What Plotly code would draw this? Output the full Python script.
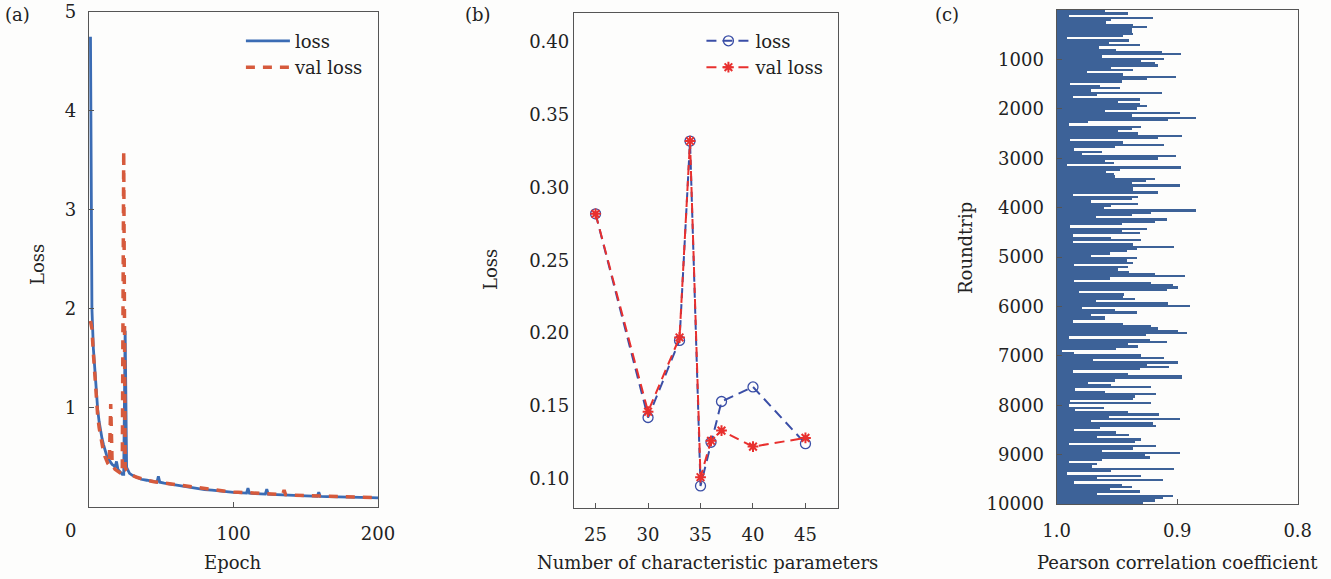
import numpy as np
import plotly.graph_objects as go

FONT = "DejaVu Serif"
FS = 18
AXIS_COLOR = "#555555"

# ---- (a) training history -------------------------------------------------
loss_epoch = [1, 2, 3, 4, 5, 6, 7, 8, 9, 10, 11, 12, 13, 14, 15, 16, 17, 18, 19, 20,
              21, 22, 23, 24, 25, 26, 28, 30, 33, 36, 40, 44, 47, 48, 49, 52, 56, 60,
              65, 70, 75, 80, 85, 90, 95, 100, 105, 109, 110, 111, 115, 120, 122, 123,
              124, 130, 135, 140, 145, 150, 155, 158, 159, 160, 165, 170, 175, 180,
              185, 190, 195, 200]
loss_value = [4.75, 2.00, 1.60, 1.38, 1.15, 0.98, 0.86, 0.76, 0.69, 0.63, 0.57, 0.53,
              0.50, 0.47, 0.45, 0.43, 0.42, 0.40, 0.46, 0.38, 0.36, 0.34, 0.33, 0.33,
              1.78, 0.40, 0.34, 0.32, 0.30, 0.28, 0.27, 0.26, 0.25, 0.31, 0.25, 0.24,
              0.23, 0.22, 0.205, 0.195, 0.185, 0.175, 0.17, 0.16, 0.155, 0.148, 0.143,
              0.14, 0.19, 0.14, 0.135, 0.13, 0.13, 0.18, 0.13, 0.125, 0.12, 0.118,
              0.115, 0.112, 0.11, 0.108, 0.15, 0.108, 0.105, 0.102, 0.10, 0.098,
              0.096, 0.095, 0.094, 0.092]

val_epoch = [1, 2, 3, 4, 5, 6, 7, 8, 9, 10, 11, 12, 13, 14, 15, 16, 17, 18, 19, 20,
             21, 22, 23, 24, 25, 26, 28, 30, 33, 36, 40, 45, 50, 55, 60, 65, 70, 75,
             80, 85, 90, 95, 100, 110, 120, 130, 134, 135, 136, 140, 150, 160, 170,
             180, 190, 200]
val_value = [1.88, 1.80, 1.55, 1.30, 1.08, 0.92, 0.80, 0.70, 0.62, 0.56, 0.51, 0.47,
             0.44, 0.42, 1.04, 0.43, 0.40, 0.38, 0.37, 0.36, 0.35, 0.34, 0.33, 3.60,
             0.40, 0.37, 0.34, 0.32, 0.30, 0.285, 0.27, 0.255, 0.245, 0.235, 0.225,
             0.21, 0.20, 0.19, 0.18, 0.172, 0.165, 0.158, 0.152, 0.143, 0.135, 0.128,
             0.125, 0.17, 0.125, 0.12, 0.115, 0.11, 0.105, 0.10, 0.097, 0.094]

# ---- (b) loss vs. number of characteristic parameters --------------------
n_params = [25, 30, 33, 34, 35, 36, 37, 40, 45]
param_loss = [0.282, 0.142, 0.195, 0.332, 0.095, 0.125, 0.153, 0.163, 0.124]
param_val_loss = [0.282, 0.146, 0.197, 0.332, 0.101, 0.126, 0.133, 0.122, 0.128]

# ---- (c) Pearson correlation per roundtrip -------------------------------
pearson = [
    0.960, 0.941, 0.990, 0.920, 0.955, 0.959, 0.937, 0.925, 0.938, 0.938, 0.937, 0.945,
    0.992, 0.940, 0.957, 0.931, 0.965, 0.951, 0.913, 0.897, 0.963, 0.911, 0.930, 0.919,
    0.916, 0.955, 0.937, 0.975, 0.945, 0.901, 0.925, 0.946, 0.989, 0.964, 0.948, 0.972,
    0.913, 0.967, 0.987, 0.931, 0.949, 0.931, 0.925, 0.934, 0.960, 0.898, 0.938, 0.885,
    0.908, 0.974, 0.990, 0.930, 0.938, 0.949,
    0.933, 0.896, 0.916, 0.989, 0.945, 0.911, 0.952, 0.986, 0.963, 0.979, 0.901, 0.916,
    0.960, 0.953, 0.992, 0.897, 0.948, 0.959, 0.953, 0.952, 0.919, 0.926, 0.938, 0.898,
    0.937, 0.937, 0.916, 0.987, 0.933, 0.938, 0.972, 0.933, 0.955, 0.961, 0.885, 0.922,
    0.938, 0.968, 0.909, 0.919, 0.946, 0.989, 0.925, 0.946, 0.931, 0.987, 0.955, 0.930,
    0.987, 0.937, 0.903, 0.934,
    0.942, 0.956, 0.972, 0.934, 0.942, 0.937, 0.986, 0.941, 0.949, 0.940, 0.919, 0.894,
    0.956, 0.986, 0.922, 0.904, 0.900, 0.909, 0.982, 0.944, 0.945, 0.935, 0.968, 0.908,
    0.890, 0.979, 0.952, 0.934, 0.972, 0.960, 0.960, 0.987, 0.945, 0.922, 0.916, 0.900,
    0.892, 0.926, 0.990, 0.923, 0.909, 0.941, 0.933, 0.951, 0.996, 0.986, 0.930, 0.911,
    0.970, 0.900, 0.925, 0.907, 0.931, 0.987, 0.941, 0.896,
    0.896, 0.952, 0.974, 0.955, 0.922, 0.985, 0.960, 0.918, 0.935, 0.937, 0.989, 0.922,
    0.990, 0.961, 0.985, 0.941, 0.915, 0.957, 0.898, 0.972, 0.920, 0.918, 0.964, 0.986,
    0.951, 0.940, 0.967, 0.930, 0.935, 0.990, 0.918, 0.937, 0.963, 0.898, 0.927, 0.923,
    0.963, 0.990, 0.967, 0.971, 0.903, 0.955, 0.992, 0.930, 0.967, 0.912, 0.986, 0.946,
    0.938, 0.956, 0.931, 0.967, 0.904, 0.912, 0.919, 0.929,
]
n_roundtrips = 10000
bin_width = n_roundtrips / len(pearson)
roundtrip = [(i + 0.5) * bin_width for i in range(len(pearson))]

fig = go.Figure()

# (a)
fig.add_trace(go.Scatter(x=loss_epoch, y=loss_value, mode="lines", name="loss",
                         line=dict(color="#3b6cb4", width=2.8),
                         xaxis="x", yaxis="y", legend="legend"))
fig.add_trace(go.Scatter(x=val_epoch, y=val_value, mode="lines", name="val loss",
                         line=dict(color="#d65a3c", width=3.5, dash="9px,8px"),
                         xaxis="x", yaxis="y", legend="legend"))

# (b)
fig.add_trace(go.Scatter(x=n_params, y=param_loss, mode="lines+markers", name="loss",
                         line=dict(color="#3a4ea6", width=2, dash="10px,6px"),
                         marker=dict(symbol="circle-open", size=10, color="#3a4ea6",
                                     line=dict(width=1.3, color="#3a4ea6")),
                         xaxis="x2", yaxis="y2", legend="legend2"))
fig.add_trace(go.Scatter(x=n_params, y=param_val_loss, mode="lines+markers", name="val loss",
                         line=dict(color="#e8302e", width=2, dash="10px,6px"),
                         marker=dict(symbol="asterisk-open", size=9, color="#e8302e",
                                     line=dict(width=2, color="#e8302e")),
                         xaxis="x2", yaxis="y2", legend="legend2"))

# (c)
fig.add_trace(go.Bar(y=roundtrip, x=[v - 1.0 for v in pearson], base=1.0,
                     orientation="h", width=bin_width,
                     marker=dict(color="#3d6298", line=dict(width=0)),
                     showlegend=False, xaxis="x3", yaxis="y3"))

tickfont = dict(family=FONT, size=FS, color="#222222")
common = dict(showline=True, mirror=True, linecolor=AXIS_COLOR, linewidth=1.4,
              showgrid=False, zeroline=False, ticks="inside", ticklen=5,
              tickcolor=AXIS_COLOR, tickwidth=1.3, tickfont=tickfont,
              automargin=False)

fig.update_layout(
    width=1331, height=579,
    margin=dict(l=0, r=0, t=0, b=0, pad=0, autoexpand=False),
    paper_bgcolor="#fdfdfc", plot_bgcolor="#fdfdfc",
    font=dict(family=FONT, size=FS, color="#222222"),
    bargap=0,
    xaxis=dict(domain=[0.0669, 0.284], range=[0, 200], tickvals=[100, 200],
               anchor="y", ticklabelstandoff=10, **common),
    yaxis=dict(domain=[0.1244, 0.9793], range=[0, 5], tickvals=[1, 2, 3, 4, 5],
               anchor="x", ticklabelstandoff=8, **common),
    xaxis2=dict(domain=[0.4313, 0.6296], range=[22.95, 48.1],
                tickvals=[25, 30, 35, 40, 45], anchor="y2", ticklabelstandoff=10, **common),
    yaxis2=dict(domain=[0.1231, 0.9775], range=[0.08, 0.42],
                tickvals=[0.10, 0.15, 0.20, 0.25, 0.30, 0.35, 0.40], tickformat=".2f",
                anchor="x2", ticklabelstandoff=0,
                **{**common, "ticks": ""}),
    xaxis3=dict(domain=[0.7939, 0.975], range=[1.0, 0.8], tickvals=[1.0, 0.9, 0.8],
                ticktext=["1.0", "0.9", "0.8"], anchor="y3", ticklabelstandoff=10, **common),
    yaxis3=dict(domain=[0.1295, 0.9827], range=[10000, 0],
                tickvals=list(range(1000, 10001, 1000)), tickformat="d", anchor="x3",
                ticklabelstandoff=8, **common),
    legend=dict(x=0.181, y=0.961, xanchor="left", yanchor="top",
                bgcolor="rgba(0,0,0,0)", font=dict(family=FONT, size=FS),
                itemwidth=44),
    legend2=dict(x=0.527, y=0.961, xanchor="left", yanchor="top",
                 bgcolor="rgba(0,0,0,0)", font=dict(family=FONT, size=FS),
                 itemwidth=44),
)

ann = dict(showarrow=False, xref="paper", yref="paper", xanchor="center",
           yanchor="middle", font=dict(family=FONT, size=FS, color="#222222"))
labels = [
    ("(a)", 17, 15, 0), ("(b)", 478, 15, 0), ("(c)", 947, 15, 0),
    ("0", 70, 530, 0),
    ("Epoch", 233, 562, 0),
    ("Number of characteristic parameters", 707, 562, 0),
    ("Pearson correlation coefficient", 1177, 562, 0),
    ("Loss", 38, 265, -90), ("Loss", 490, 270, -90), ("Roundtrip", 965, 248, -90),
]
for text, px, py, ang in labels:
    fig.add_annotation(text=text, x=px / 1331, y=1 - py / 579, textangle=ang, **ann)

fig.write_html("out.html")
